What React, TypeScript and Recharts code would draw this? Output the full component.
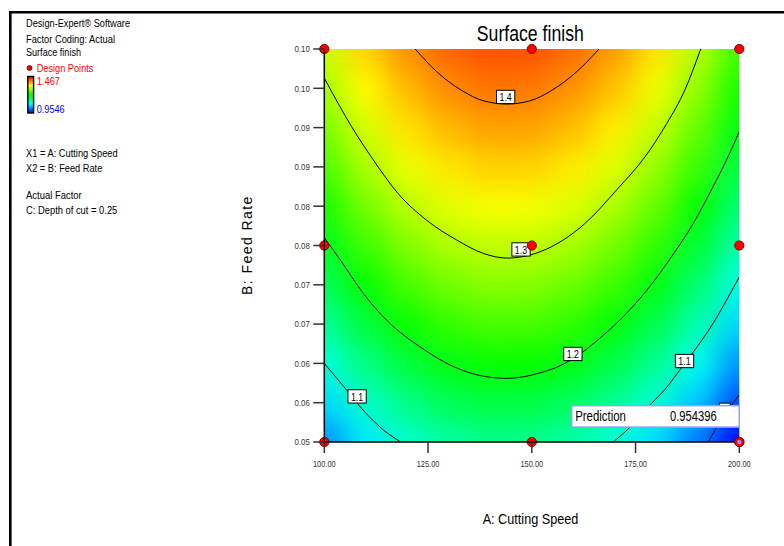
import React from 'react';
import { ComposedChart, Scatter, XAxis, YAxis } from 'recharts';

// ---------- data ----------
const gridX = [100, 110, 120, 130, 140, 150, 160, 170, 180, 190, 200];
const gridY = [0.05, 0.055, 0.06, 0.065, 0.07, 0.075, 0.08, 0.085, 0.09, 0.095, 0.1];
// estimated Surface finish values, one row per gridY value (bottom to top)
const surfaceRows = [
  [1.026, 1.072, 1.107, 1.129, 1.140, 1.139, 1.126, 1.101, 1.064, 1.016, 0.956],
  [1.064, 1.110, 1.144, 1.167, 1.177, 1.176, 1.163, 1.138, 1.102, 1.054, 0.993],
  [1.100, 1.146, 1.180, 1.203, 1.213, 1.212, 1.199, 1.174, 1.138, 1.089, 1.029],
  [1.134, 1.180, 1.214, 1.236, 1.247, 1.246, 1.233, 1.208, 1.171, 1.123, 1.063],
  [1.165, 1.211, 1.246, 1.268, 1.279, 1.277, 1.264, 1.240, 1.203, 1.155, 1.095],
  [1.195, 1.241, 1.275, 1.298, 1.308, 1.307, 1.294, 1.269, 1.233, 1.185, 1.124],
  [1.223, 1.269, 1.303, 1.326, 1.336, 1.335, 1.322, 1.297, 1.261, 1.212, 1.152],
  [1.249, 1.295, 1.329, 1.351, 1.362, 1.361, 1.348, 1.323, 1.286, 1.238, 1.178],
  [1.272, 1.318, 1.353, 1.375, 1.386, 1.385, 1.372, 1.347, 1.310, 1.262, 1.202],
  [1.294, 1.340, 1.374, 1.397, 1.408, 1.406, 1.393, 1.369, 1.332, 1.284, 1.223],
  [1.314, 1.360, 1.394, 1.417, 1.427, 1.426, 1.413, 1.388, 1.352, 1.303, 1.243],
];

const c14x = [121.9, 127.1, 132.9, 138.4, 144.0, 149.5, 155.0, 160.8, 166.2];
const c14y = [0.1, 0.0971, 0.0948, 0.0934, 0.093, 0.0934, 0.0948, 0.0971, 0.1];
const c13x = [100, 106.6, 111.8, 117.8, 124.7, 131.9, 138.3, 144.0, 152.0, 162.8, 170.5, 177.3, 182.5, 186.9, 190.7];
const c13y = [0.0963, 0.0901, 0.0859, 0.0816, 0.0782, 0.0757, 0.074, 0.0734, 0.0742, 0.0778, 0.0821, 0.0863, 0.0905, 0.0948, 0.1];
const c12x = [100, 103.8, 109.4, 115.0, 123.1, 131.1, 139.1, 144.0, 152.0, 156.8, 161.6, 166.4, 171.2, 177.7, 183.7, 188.9, 193.3, 197.3, 200];
const c12y = [0.076, 0.0732, 0.0689, 0.0655, 0.0621, 0.0596, 0.0583, 0.0581, 0.0588, 0.0597, 0.0612, 0.0632, 0.0655, 0.0693, 0.0736, 0.0778, 0.0821, 0.0863, 0.0895];
const c11Lx = [100, 105.4, 109.8, 114.1, 118.4];
const c11Ly = [0.06, 0.0566, 0.0538, 0.0516, 0.05];
const c11Rx = [169.6, 173.7, 177.7, 182.1, 186.7, 190.1, 193.7, 197.3, 200];
const c11Ry = [0.05, 0.0519, 0.0543, 0.0567, 0.0599, 0.0623, 0.0651, 0.0684, 0.071];
const c10x = [192.5, 196.1, 200];
const c10y = [0.05, 0.0532, 0.056];

const contourLabelX = [143.7, 147.4, 159.9, 186.8, 107.9, 196.5];
const contourLabelY = [0.0939, 0.0745, 0.0612, 0.0603, 0.0558, 0.0541];
// the last label ("1") sits almost fully under the Prediction box, only its frame shows
const contourLabelText = ['1.4', '1.3', '1.2', '1.1', '1.1', ''];

const designX = [100, 150, 200];
const designY = [0.05, 0.075, 0.1];
const selectedPoint = [{ x: 200, y: 0.05 }];

const predictionLabel = 'Prediction';
const predictionValue = '0.954396';
const predictionAnchor = [{ x: 200, y: 0.0519 }];

const xTicks = [100, 125, 150, 175, 200];
const xTickLabels = ['100.00', '125.00', '150.00', '175.00', '200.00'];
const yTicks = [0.05, 0.055, 0.06, 0.065, 0.07, 0.075, 0.08, 0.085, 0.09, 0.095, 0.1];
const yTickLabels = ['0.05', '0.06', '0.06', '0.07', '0.07', '0.08', '0.08', '0.09', '0.09', '0.10', '0.10'];

const VMIN = 0.9546;
const VMAX = 1.467;

const legendLines = [
  { t: 'Design-Expert\u00AE Software', x: 26, y: 27.3, w: 104, c: '#000' },
  { t: 'Factor Coding: Actual', x: 26, y: 42.7, w: 89, c: '#000' },
  { t: 'Surface finish', x: 26, y: 56, w: 55, c: '#000' },
  { t: 'Design Points', x: 36.7, y: 71.7, w: 56.7, c: '#ff0000' },
  { t: '1.467', x: 36.7, y: 85.3, w: 23.3, c: '#ff0000' },
  { t: '0.9546', x: 36.7, y: 113.3, w: 28, c: '#0000ff' },
  { t: 'X1 = A: Cutting Speed', x: 26, y: 157.3, w: 91.7, c: '#000' },
  { t: 'X2 = B: Feed Rate', x: 26, y: 171.7, w: 76.3, c: '#000' },
  { t: 'Actual Factor', x: 26, y: 199.3, w: 55.7, c: '#000' },
  { t: 'C: Depth of cut = 0.25', x: 26, y: 214.3, w: 91.3, c: '#000' },
];

// ---------- derived tables ----------
const heatCells = gridY.flatMap((y, j) => gridX.map((x, i) => ({ x, y, v: surfaceRows[j][i] })));
const toPts = (xs: number[], ys: number[]) => xs.map((x, i) => ({ x, y: ys[i] }));
const contours = [
  toPts(c14x, c14y),
  toPts(c13x, c13y),
  toPts(c12x, c12y),
  toPts(c11Lx, c11Ly),
  toPts(c11Rx, c11Ry),
  toPts(c10x, c10y),
];
const contourLabels = contourLabelX.map((x, i) => ({ x, y: contourLabelY[i], label: contourLabelText[i] }));
const designPoints = designY.flatMap((y) => designX.map((x) => ({ x, y })));

// ---------- styling helpers ----------
const FONT = "'Liberation Sans', Arial, Helvetica, sans-serif";
const CELL_W = 41.5;
const CELL_H = 39.3;
const STOPS: [number, number[]][] = [
  [0, [0, 0, 255]],
  [0.25, [0, 255, 255]],
  [0.5, [0, 255, 0]],
  [0.75, [255, 255, 0]],
  [1, [255, 0, 0]],
];
function colorOf(v: number) {
  let t = (v - VMIN) / (VMAX - VMIN);
  t = Math.max(0, Math.min(1, t));
  for (let i = 1; i < STOPS.length; i++) {
    if (t <= STOPS[i][0]) {
      const [t0, c0] = STOPS[i - 1];
      const [t1, c1] = STOPS[i];
      const f = (t - t0) / (t1 - t0);
      const c = c0.map((a, k) => Math.round(a + (c1[k] - a) * f));
      return `rgb(${c.join(',')})`;
    }
  }
  return 'rgb(255,0,0)';
}

const HeatCell = (p: any) => (
  <rect
    x={p.cx - CELL_W / 2 - 0.5}
    y={p.cy - CELL_H / 2 - 0.5}
    width={CELL_W + 1}
    height={CELL_H + 1}
    fill={colorOf(p.payload.v)}
  />
);

const NoShape = () => <g />;

const LabelBox = (p: any) => {
  const lab: string = p.payload.label;
  const w = lab.length > 1 ? 18.3 : 11;
  const h = 13.3;
  return (
    <g>
      <rect x={p.cx - w / 2} y={p.cy - h / 2} width={w} height={h} fill="#fff" stroke="#000" strokeWidth={1} />
      {lab ? (
        <text
          x={p.cx}
          y={p.cy + 4.3}
          textAnchor="middle"
          fontSize={11.5}
          fontFamily={FONT}
          fill="#000"
          textLength={12.3}
          lengthAdjust="spacingAndGlyphs"
        >
          {lab}
        </text>
      ) : null}
    </g>
  );
};

const DesignDot = (p: any) => (
  <circle cx={p.cx} cy={p.cy} r={4.6} fill="#ff0000" stroke="#7a0000" strokeWidth={1} />
);
const SelectedDot = (p: any) => (
  <g>
    <circle cx={p.cx} cy={p.cy} r={4.6} fill="#ff0000" stroke="#7a0000" strokeWidth={1} />
    <circle cx={p.cx} cy={p.cy} r={2.2} fill="#8a8cff" />
  </g>
);

const PredictionBox = (p: any) => {
  const w = 167.6;
  const h = 21.4;
  return (
    <g>
      <rect x={p.cx - w} y={p.cy - h} width={w} height={h} fill="#fff" stroke="#9a9cff" strokeWidth={1.5} />
      <text x={p.cx - w + 3.5} y={p.cy - 6} fontSize={14} fontFamily={FONT} fill="#000" textLength={50.7} lengthAdjust="spacingAndGlyphs">
        {predictionLabel}
      </text>
      <text x={p.cx - 69.3} y={p.cy - 6} fontSize={14} fontFamily={FONT} fill="#000" textLength={46.7} lengthAdjust="spacingAndGlyphs">
        {predictionValue}
      </text>
    </g>
  );
};

const YTick = (p: any) => {
  const idx = yTicks.findIndex((t) => Math.abs(t - p.payload.value) < 1e-9);
  return (
    <text x={p.x} y={p.y + 3.3} textAnchor="end" fontSize={9} fontFamily={FONT} fill="#333" textLength={15.3} lengthAdjust="spacingAndGlyphs">
      {yTickLabels[idx]}
    </text>
  );
};
const XTick = (p: any) => {
  const idx = xTicks.findIndex((t) => Math.abs(t - p.payload.value) < 1e-9);
  return (
    <text x={p.x} y={p.y + 11.7} textAnchor="middle" fontSize={9} fontFamily={FONT} fill="#333" textLength={22.7} lengthAdjust="spacingAndGlyphs">
      {xTickLabels[idx]}
    </text>
  );
};

export default function App() {
  return (
    <div style={{ position: 'relative', width: 784, height: 546, background: '#fff', overflow: 'hidden' }}>
      <style>{`body{margin:0;background:#fff} .heat-layer{filter:url(#heatblur);}`}</style>
      <ComposedChart width={784} height={546} margin={{ top: 49, right: 44.7, bottom: 74, left: 264.3 }}>
        <XAxis xAxisId="clip" hide dataKey="x" type="number" domain={[100, 200]} allowDataOverflow height={0} />
        <YAxis yAxisId="clip" hide dataKey="y" type="number" domain={[0.05, 0.1]} allowDataOverflow width={0} />
        <XAxis
          xAxisId="main"
          dataKey="x"
          type="number"
          domain={[100, 200]}
          ticks={xTicks}
          height={30}
          tickSize={11}
          tick={<XTick />}
          tickLine={{ stroke: '#333', strokeWidth: 1.5 }}
          axisLine={{ stroke: '#000', strokeWidth: 1.5 }}
        />
        <YAxis
          yAxisId="main"
          dataKey="y"
          type="number"
          domain={[0.05, 0.1]}
          ticks={yTicks}
          width={60}
          tickSize={11}
          tickMargin={3.5}
          tick={<YTick />}
          tickLine={{ stroke: '#333', strokeWidth: 1.5 }}
          axisLine={{ stroke: '#000', strokeWidth: 1.5 }}
        />
        <XAxis xAxisId="top" orientation="top" dataKey="x" type="number" domain={[100, 200]} height={0} tick={false} tickLine={false} axisLine={{ stroke: '#000', strokeWidth: 1.5 }} />
        <YAxis yAxisId="right" orientation="right" dataKey="y" type="number" domain={[0.05, 0.1]} width={0} tick={false} tickLine={false} axisLine={{ stroke: '#000', strokeWidth: 1.5 }} />

        <Scatter
          className="heat-layer"
          xAxisId="clip"
          yAxisId="clip"
          data={heatCells}
          shape={HeatCell}
          isAnimationActive={false}
          zIndex={100}
        />
        {contours.map((pts, i) => (
          <Scatter
            key={'c' + i}
            xAxisId="clip"
            yAxisId="clip"
            data={pts}
            shape={NoShape}
            line={{ stroke: '#000', strokeWidth: 1 }}
            lineJointType="monotoneX"
            isAnimationActive={false}
            zIndex={200}
          />
        ))}
        <Scatter xAxisId="main" yAxisId="main" data={contourLabels} shape={LabelBox} isAnimationActive={false} zIndex={300} />
        <Scatter xAxisId="main" yAxisId="main" data={designPoints} shape={DesignDot} isAnimationActive={false} zIndex={400} />
        <Scatter xAxisId="main" yAxisId="main" data={predictionAnchor} shape={PredictionBox} isAnimationActive={false} zIndex={500} />
        <Scatter xAxisId="main" yAxisId="main" data={selectedPoint} shape={SelectedDot} isAnimationActive={false} zIndex={600} />
      </ComposedChart>

      <svg width={784} height={546} style={{ position: 'absolute', left: 0, top: 0, pointerEvents: 'none' }}>
        <defs>
          <filter id="heatblur" x="-10%" y="-10%" width="120%" height="120%" colorInterpolationFilters="sRGB">
            <feGaussianBlur stdDeviation={14} />
            <feComponentTransfer>
              <feFuncA type="table" tableValues="1 1" />
            </feComponentTransfer>
          </filter>
          <linearGradient id="cbar" x1="0" y1="0" x2="0" y2="1">
            <stop offset="0%" stopColor="#ff0000" />
            <stop offset="25%" stopColor="#ffff00" />
            <stop offset="50%" stopColor="#00ff00" />
            <stop offset="75%" stopColor="#00ffff" />
            <stop offset="100%" stopColor="#0000ff" />
          </linearGradient>
        </defs>
        <path d="M10.3,546 L10.3,12.3 L784,12.3" fill="none" stroke="#000" strokeWidth={2.6} />
        {legendLines.map((l, i) => (
          <text key={i} x={l.x} y={l.y} fontSize={10} fontFamily={FONT} fill={l.c} textLength={l.w} lengthAdjust="spacingAndGlyphs">
            {l.t}
          </text>
        ))}
        <circle cx={29.5} cy={68} r={2.5} fill="#ff0000" stroke="#600" strokeWidth={0.8} />
        <rect x={27.8} y={76.5} width={5.8} height={36.5} fill="url(#cbar)" stroke="#000" strokeWidth={1.4} />
        <text x={530.3} y={40.7} textAnchor="middle" fontSize={22} fontFamily={FONT} fill="#000" textLength={107} lengthAdjust="spacingAndGlyphs">
          Surface finish
        </text>
        <text x={530.5} y={524} textAnchor="middle" fontSize={15} fontFamily={FONT} fill="#000" textLength={95.7} lengthAdjust="spacingAndGlyphs">
          A: Cutting Speed
        </text>
        <text
          transform="translate(252.3,245.8) rotate(-90)"
          textAnchor="middle"
          fontSize={14}
          fontFamily={FONT}
          fill="#000"
          textLength={98.3}
          lengthAdjust="spacing"
        >
          B: Feed Rate
        </text>
      </svg>
    </div>
  );
}
